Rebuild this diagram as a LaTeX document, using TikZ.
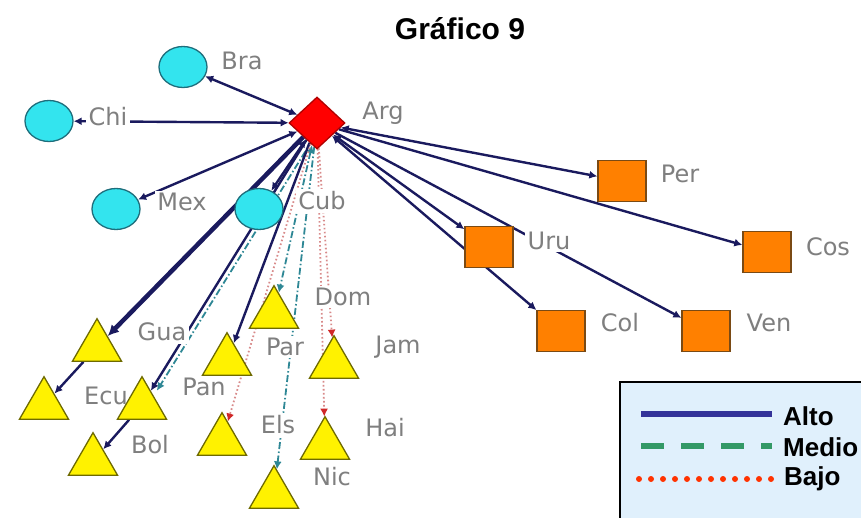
\documentclass[tikz,border=0pt]{standalone}
\usepackage{fontspec}
\setmainfont{Liberation Sans}
\newfontfamily\lblfont{DejaVu Sans}
\usetikzlibrary{shapes.geometric,arrows.meta}

\definecolor{navy}{HTML}{1A1A5E}
\definecolor{tealc}{HTML}{2E8795}
\definecolor{rose}{HTML}{D88A8A}
\definecolor{bajotip}{HTML}{D02828}
\definecolor{circfill}{HTML}{33E4EE}
\definecolor{circline}{HTML}{1E6E7C}
\definecolor{diafill}{HTML}{FF0000}
\definecolor{dialine}{HTML}{B00000}
\definecolor{sqfill}{HTML}{FF8000}
\definecolor{sqline}{HTML}{7A4A14}
\definecolor{trifill}{HTML}{FFF200}
\definecolor{triline}{HTML}{6E6A00}
\definecolor{lblgray}{HTML}{7F7F7F}
\definecolor{legfill}{HTML}{E0F0FC}
\definecolor{altoc}{HTML}{333399}
\definecolor{medioc}{HTML}{339966}
\definecolor{bajoc}{HTML}{FF3300}

\pgfdeclarelayer{bg}
\pgfsetlayers{bg,main}

\begin{document}
\begin{tikzpicture}[x=1pt,y=-1pt,
    circ/.style={ellipse,draw=circline,fill=circfill,line width=1.3pt,
      minimum width=48pt,minimum height=41pt,inner sep=0pt},
    dia/.style={diamond,draw=dialine,fill=diafill,line width=1.3pt,
      minimum width=56pt,minimum height=52pt,inner sep=0pt},
    sq/.style={rectangle,draw=sqline,fill=sqfill,line width=1.3pt,
      minimum width=48pt,minimum height=41pt,inner sep=0pt},
    tri/.style={regular polygon,regular polygon sides=3,draw=triline,fill=trifill,
      line width=1.3pt,minimum size=56.6pt,inner sep=0pt},
    lbl/.style={font=\lblfont\fontsize{24}{24}\selectfont,text=lblgray,fill=white,inner sep=2.5pt},
    legtxt/.style={font=\bfseries\fontsize{26}{26}\selectfont,anchor=west,inner sep=0pt},
    alto/.style={draw=navy,line width=2.4pt},
    medio/.style={draw=tealc,line width=1.8pt,dash pattern=on 7pt off 2.5pt on 1.5pt off 2.5pt},
    bajo/.style={draw=rose,line width=1.8pt,dash pattern=on 1.6pt off 2.4pt,
      -{Latex[length=8pt,width=8pt,color=bajotip]}},
    >={Latex[length=8pt,width=8pt]}]
    \useasboundingbox (0,0) rectangle (861,518);

    \node[font=\bfseries\fontsize{30}{30}\selectfont] (title) at (460,29) {Gráfico 9};

    \node[lbl] (lBra) at (242,61) {Bra};
    \node[lbl] (lChi) at (108,117) {Chi};
    \node[lbl] (lArg) at (383,113) {Arg};
    \node[lbl] (lMex) at (182,202) {Mex};
    \node[lbl] (lCub) at (322,201) {Cub};
    \node[lbl] (lPer) at (680,174) {Per};
    \node[lbl] (lUru) at (549,241) {Uru};
    \node[lbl] (lCos) at (828,247) {Cos};
    \node[lbl] (lCol) at (620,323) {Col};
    \node[lbl] (lVen) at (769,323) {Ven};
    \node[lbl] (lGua) at (162,332) {Gua};
    \node[lbl] (lEcu) at (106,396) {Ecu};
    \node[lbl] (lPan) at (204,387) {Pan};
    \node[lbl] (lBol) at (150,445) {Bol};
    \node[lbl] (lPar) at (285,347) {Par};
    \node[lbl] (lDom) at (343,297) {Dom};
    \node[lbl] (lJam) at (398,347) {Jam};
    \node[lbl] (lEls) at (278,425) {Els};
    \node[lbl] (lHai) at (385,428) {Hai};
    \node[lbl] (lNic) at (332,477) {Nic};

    \node[circ] (Bra) at (183,67) {};
    \node[circ] (Chi) at (49,121) {};
    \node[circ] (Mex) at (116,209) {};
    \node[circ] (Cub) at (259,209) {};
    \node[dia] (Arg) at (317,123) {};
    \node[sq] (Per) at (622,181) {};
    \node[sq] (Uru) at (489,247) {};
    \node[sq] (Cos) at (767,252) {};
    \node[sq] (Col) at (561,331) {};
    \node[sq] (Ven) at (706,331) {};
    \node[tri] (Gua) at (97,347) {};
    \node[tri] (Ecu) at (44,405) {};
    \node[tri] (Pan) at (142,405) {};
    \node[tri] (Bol) at (93,461) {};
    \node[tri] (Par) at (227,361) {};
    \node[tri] (Dom) at (274,314) {};
    \node[tri] (Jam) at (334,364) {};
    \node[tri] (Els) at (222,441) {};
    \node[tri] (Hai) at (325,445) {};
    \node[tri] (Nic) at (274,494) {};

    \begin{pgfonlayer}{bg}
    \draw[alto,<->] (Bra) -- (Arg);
    \draw[alto,<->] (Chi) -- (Arg);
    \draw[alto,<->] (Mex) -- (Arg);
    \draw[alto,<->] (Arg) -- (Cub);
    \draw[alto,line width=4.5pt,-{Latex[length=11pt,width=11pt]}] (Arg) -- (Gua);
    \draw[alto,->] (Gua) -- (Ecu);
    \draw[alto,->] (Arg) -- (Pan);
    \draw[medio,->,transform canvas={xshift=6pt}] (Arg) -- (Pan);
    \draw[alto,->] (Pan) -- (Bol);
    \draw[alto,->] (Arg) -- (Par);
    \draw[medio,<->] (Arg) -- (Dom);
    \draw[medio,->] (Arg) -- (Nic);
    \draw[bajo] (Arg) -- (Els);
    \draw[bajo] (Arg) -- (Jam);
    \draw[bajo] (Arg) -- (Hai);
    \draw[alto,<->] (Arg) -- (Per);
    \draw[alto,->] (Arg) -- (Cos);
    \draw[alto,->] (Arg) -- (Ven);
    \draw[alto,<->] (Arg) -- (Uru);
    \draw[alto,<->] (Arg) -- (Col);
    \end{pgfonlayer}

    \draw[line width=2pt,fill=legfill] (620,382) rectangle (880,530);
    \coordinate (a1) at (641,414);
    \coordinate (a2) at (772,414);
    \coordinate (m1) at (641,446);
    \coordinate (m2) at (772,446);
    \coordinate (b1) at (639,479);
    \coordinate (b2) at (772,479);
    \draw[altoc,line width=5.5pt] (a1) -- (a2);
    \draw[medioc,line width=6pt,dash pattern=on 23pt off 17pt] (m1) -- (m2);
    \draw[bajoc,line width=6pt,line cap=round,dash pattern=on 0pt off 12pt] (b1) -- (b2);
    \node[legtxt] (tAlto) at (783,416) {Alto};
    \node[legtxt] (tMedio) at (783,447) {Medio};
    \node[legtxt] (tBajo) at (784,479) {Bajo};
  \end{tikzpicture}
\end{document}
